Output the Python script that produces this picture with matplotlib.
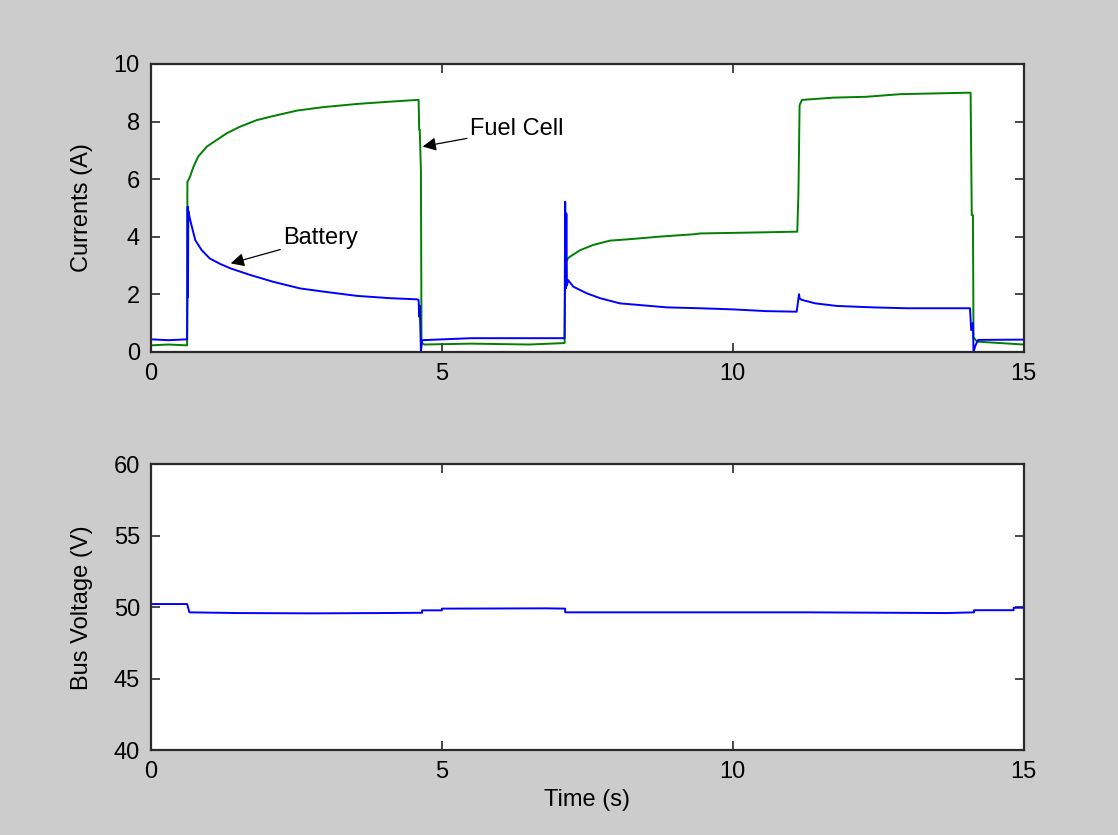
import matplotlib
matplotlib.use("Agg")
import matplotlib.pyplot as plt

# ---- battery current (A) ----
t_batt = [0.00, 0.30, 0.62, 0.625, 0.63, 0.635, 0.64, 0.67, 0.76, 0.87, 1.01, 1.19,
          1.36, 1.70, 2.10, 2.56, 2.96, 3.54, 4.11, 4.57, 4.60, 4.61, 4.62, 4.64,
          4.66, 5.50, 6.50, 7.11, 7.12, 7.13, 7.14, 7.15, 7.17, 7.26, 7.49, 7.72,
          8.06, 8.41, 8.87, 9.44, 10.01, 10.58, 11.10, 11.14, 11.15, 11.19, 11.42,
          11.79, 12.42, 12.99, 14.05, 14.08, 14.10, 14.13, 14.14, 14.18, 14.22, 15.00]
i_batt = [0.43, 0.40, 0.43, 1.86, 5.04, 1.90, 4.90, 4.60, 3.88, 3.53, 3.24, 3.05,
          2.90, 2.67, 2.43, 2.20, 2.09, 1.94, 1.86, 1.82, 1.80, 1.22, 1.60, 0.00,
          0.40, 0.47, 0.47, 0.47, 5.21, 2.20, 4.80, 2.30, 2.49, 2.26, 2.03, 1.86,
          1.68, 1.62, 1.54, 1.51, 1.47, 1.41, 1.39, 2.00, 1.85, 1.80, 1.68,
          1.59, 1.54, 1.51, 1.51, 1.51, 0.75, 1.00, 0.00, 0.25, 0.41, 0.42]

# ---- fuel cell current (A) ----
t_fc = [0.00, 0.30, 0.62, 0.625, 0.67, 0.73, 0.81, 0.96, 1.13, 1.30, 1.53, 1.82,
        2.10, 2.51, 2.96, 3.54, 4.11, 4.57, 4.60, 4.61, 4.62, 4.64, 4.65, 4.70,
        5.50, 6.50, 7.11, 7.12, 7.17, 7.20, 7.38, 7.60, 7.89, 8.29, 8.75, 9.32,
        9.44, 10.30, 11.07, 11.11, 11.13, 11.15, 11.19, 11.73, 12.30, 12.88,
        14.02, 14.09, 14.11, 14.13, 14.14, 14.20, 14.60, 15.00]
i_fc = [0.22, 0.25, 0.22, 5.90, 6.08, 6.43, 6.78, 7.13, 7.36, 7.59, 7.82, 8.05,
        8.19, 8.38, 8.50, 8.61, 8.69, 8.75, 8.75, 7.71, 7.71, 6.26, 0.30, 0.25,
        0.28, 0.25, 0.30, 3.07, 3.25, 3.30, 3.53, 3.71, 3.86, 3.92, 4.00, 4.08,
        4.11, 4.14, 4.17, 4.17, 5.50, 8.57, 8.75, 8.83, 8.86, 8.95,
        9.00, 9.00, 4.75, 4.75, 0.50, 0.35, 0.30, 0.25]

# ---- bus voltage (V) ----
t_bus = [0.00, 0.62, 0.66, 1.50, 2.80, 3.95, 4.66, 4.66, 5.00, 5.00, 6.80, 7.12,
         7.12, 11.30, 13.68, 14.15, 14.15, 14.83, 14.83, 15.00]
v_bus = [50.23, 50.23, 49.65, 49.60, 49.58, 49.60, 49.62, 49.79, 49.79, 49.91,
         49.93, 49.91, 49.65, 49.65, 49.60, 49.65, 49.80, 49.80, 49.97, 49.97]

x_ticks = [0, 5, 10, 15]
i_ticks = [0, 2, 4, 6, 8, 10]
v_ticks = [40, 45, 50, 55, 60]

FONT = "Liberation Sans"
FS = 17
BG = "#cccccc"
SPINE = "#2a2a2a"

plt.rcParams["font.family"] = FONT

fig = plt.figure(figsize=(11.18, 8.35), dpi=100, facecolor=BG)
ax1 = fig.add_axes([0.1351, 0.5788, 0.7804, 0.3446])
ax2 = fig.add_axes([0.1351, 0.1014, 0.7804, 0.3425])

for ax in (ax1, ax2):
    ax.set_facecolor("white")
    for sp in ax.spines.values():
        sp.set_linewidth(1.6)
        sp.set_color(SPINE)
    ax.tick_params(direction="in", length=6.5, width=1.2, color=SPINE,
                   top=True, right=True, labelsize=FS, pad=8,
                   labelcolor="black")
    ax.set_xlim(0, 15)
    ax.set_xticks(x_ticks)

# currents
ax1.plot(t_fc, i_fc, color="#008000", lw=1.4)
ax1.plot(t_batt, i_batt, color="#0000ff", lw=1.4)
ax1.set_ylim(0, 10)
ax1.set_yticks(i_ticks)
ax1.set_ylabel("Currents (A)", fontsize=FS)
ax1.yaxis.set_label_coords(-0.066, 0.5)

arrow_kw = dict(arrowstyle="-|>", color="black", lw=0.9, mutation_scale=20,
                shrinkA=0, shrinkB=0)
ax1.annotate("Battery", xy=(1.37, 3.07), xytext=(2.27, 3.94),
             fontsize=FS, ha="left", va="center", arrowprops=arrow_kw)
ax1.annotate("Fuel Cell", xy=(4.67, 7.13), xytext=(5.48, 7.73),
             fontsize=FS, ha="left", va="center", arrowprops=arrow_kw)

# bus voltage
ax2.plot(t_bus, v_bus, color="#0000ff", lw=1.4)
ax2.set_ylim(40, 60)
ax2.set_yticks(v_ticks)
ax2.set_ylabel("Bus Voltage (V)", fontsize=FS)
ax2.yaxis.set_label_coords(-0.066, 0.5)
ax2.set_xlabel("Time (s)", fontsize=FS)
ax2.xaxis.set_label_coords(0.5, -0.135)

fig.savefig("out.png", dpi=100, facecolor=BG)
